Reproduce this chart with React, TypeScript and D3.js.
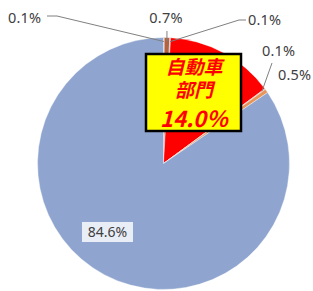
import { useMemo } from "react";
import * as d3 from "d3";

const W = 313;
const H = 291;

// slices clockwise from 12 o'clock
const sectors = ["その他A", "その他B", "その他C", "自動車部門", "その他D", "その他E", "その他F"];
const shares = [0.1, 0.7, 0.1, 14.0, 0.1, 0.5, 84.6];
const sliceColors = ["#a5a5a5", "#b5603f", "#a5a5a5", "#ff0000", "#a5a5a5", "#e8955c", "#8fa5cf"];
const shareLabels = ["0.1%", "0.7%", "0.1%", "14.0%", "0.1%", "0.5%", "84.6%"];

const FONT = "'Noto Sans', 'Liberation Sans', sans-serif";
const JP = "'Noto Sans CJK JP', sans-serif";

export default function App() {
  const cx = 163.5;
  const cy = 163.5;
  const r = 126;

  const arcs = useMemo(
    () =>
      d3
        .pie<number>()
        .sort(null)
        .value((d) => d)(shares),
    []
  );
  const arc = d3.arc<d3.PieArcDatum<number>>().innerRadius(0).outerRadius(r);
  const edge = d3.arc<d3.PieArcDatum<number>>().innerRadius(r - 4).outerRadius(r - 4);

  // where the small-slice labels sit, and their leader lines
  const small: { i: number; tx: number; ty: number; anchor: string; path?: (p: [number, number]) => string }[] = [
    { i: 0, tx: 8, ty: 23, anchor: "start", path: (p) => `M47,16L57,16L${p[0]},${p[1]}` },
    { i: 1, tx: 166, ty: 23, anchor: "middle", path: (p) => `M${p[0]},31L${p[0]},${p[1]}` },
    { i: 2, tx: 248, ty: 25, anchor: "start", path: (p) => `M246,20L239,20L${p[0]},${p[1]}` },
    { i: 4, tx: 262, ty: 56, anchor: "start", path: (p) => `M272,63L${p[0]},${p[1]}` },
    { i: 5, tx: 278, ty: 80, anchor: "start" },
  ];

  return (
    <div style={{ position: "absolute", left: 0, top: 0 }}>
      <svg width={W} height={H} style={{ display: "block", background: "#fff" }}>
        <g transform={`translate(${cx},${cy})`}>
          {arcs.map((a, i) => (
            <path key={sectors[i]} d={arc(a) ?? ""} fill={sliceColors[i]} stroke="#fff" strokeWidth={0.4} />
          ))}
        </g>
        {small.map((s) => {
          const c = edge.centroid(arcs[s.i]);
          const p: [number, number] = [cx + c[0], cy + c[1]];
          return (
            <g key={s.i}>
              {s.path && <path d={s.path(p)} fill="none" stroke="#808080" strokeWidth={1} />}
              <text
                x={s.tx}
                y={s.ty}
                textAnchor={s.anchor}
                fontFamily={FONT}
                fontSize={14.5}
                letterSpacing={0.2}
                fill="#404040"
              >
                {shareLabels[s.i]}
              </text>
            </g>
          );
        })}
        {/* 自動車部門 callout */}
        <rect x={146} y={54} width={95} height={77} fill="#ffff00" stroke="#000" strokeWidth={2.5} />
        <g fontFamily={JP} fontStyle="italic" fontWeight={700} fill="#ff0000" textAnchor="middle">
          <text x={194} y={74} fontSize={19}>
            <tspan x={194}>自動車</tspan>
            <tspan x={194} dy={23}>
              部門
            </tspan>
          </text>
          <text x={194} y={127} fontSize={22}>
            14.0％
          </text>
        </g>
        {/* largest slice */}
        <rect x={82} y={222} width={51} height={20} fill="#e9edf6" />
        <text x={107.5} y={237} textAnchor="middle" fontFamily={FONT} fontSize={14} fill="#404040">
          {shareLabels[6]}
        </text>
      </svg>
    </div>
  );
}
